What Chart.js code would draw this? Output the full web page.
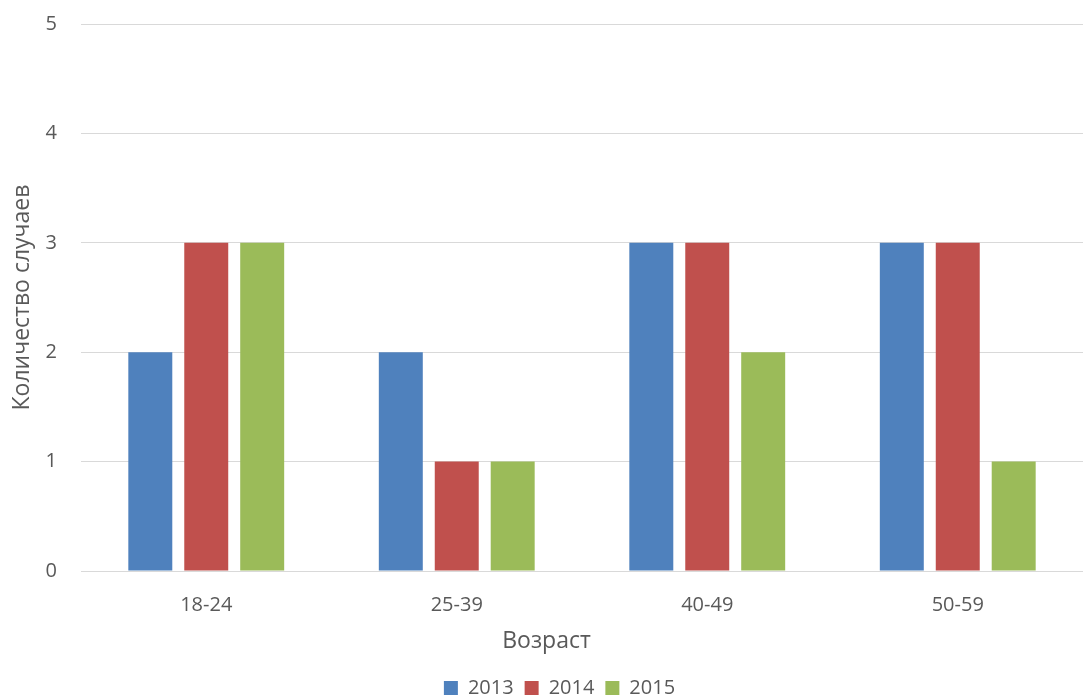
<!DOCTYPE html>
<html>
<head>
<meta charset="utf-8">
<script src="https://cdn.jsdelivr.net/npm/chart.js@4/dist/chart.umd.min.js"></script>
<style>
  html, body { margin: 0; padding: 0; background: #ffffff; overflow: hidden; }
  #wrap { width: 1083px; height: 698px; overflow: hidden; position: relative; }
  #c { position: absolute; left: 0; top: -12px; }
</style>
</head>
<body>
<div id="wrap"><canvas id="c" width="1083" height="710"></canvas></div>
<script>
// Age groups and yearly case counts
const categories = ['18-24', '25-39', '40-49', '50-59'];
const years = ['2013', '2014', '2015'];
const cases2013 = [2, 2, 3, 3];
const cases2014 = [3, 1, 3, 3];
const cases2015 = [3, 1, 2, 1];
const yTicks = [0, 1, 2, 3, 4, 5];
const xTitle = 'Возраст';
const yTitle = 'Количество случаев';

const colors = ['#4f81bd', '#c0504d', '#9bbb59'];
const series = [cases2013, cases2014, cases2015];
const fontFamily = "'Open Sans', 'Noto Sans', sans-serif";
const textColor = '#595959';

// Horizontal axis title, centred on the whole figure rather than the plot area
const xTitlePlugin = {
  id: 'xTitle',
  afterDraw(chart) {
    const ctx = chart.ctx;
    ctx.save();
    ctx.font = `23px ${fontFamily}`;
    ctx.fillStyle = textColor;
    ctx.textAlign = 'center';
    ctx.textBaseline = 'middle';
    ctx.fillText(xTitle, chart.width / 2 + 5, chart.chartArea.bottom + 70);
    ctx.restore();
  }
};

// Nudge the legend row slightly right of centre
const legendShift = {
  id: 'legendShift',
  afterLayout(chart) {
    if (chart.legend) {
      chart.legend.left += 18;
      chart.legend.right += 18;
    }
  }
};

new Chart(document.getElementById('c'), {
  type: 'bar',
  data: {
    labels: categories,
    datasets: years.map((y, i) => ({
      label: y,
      data: series[i],
      backgroundColor: colors[i],
      borderWidth: 0,
      barPercentage: 0.786,
      categoryPercentage: 0.67
    }))
  },
  plugins: [xTitlePlugin, legendShift],
  options: {
    responsive: false,
    animation: false,
    layout: { padding: { top: 0, right: 0, bottom: -10, left: 0 } },
    plugins: {
      legend: {
        position: 'bottom',
        labels: {
          boxWidth: 14,
          boxHeight: 14,
          padding: 11,
          color: textColor,
          font: { family: fontFamily, size: 20 }
        }
      },
      tooltip: { enabled: false }
    },
    scales: {
      x: {
        afterFit: (axis) => { axis.height = 96; },
        grid: { display: false, drawTicks: false },
        border: { display: true, color: '#d9d9d9', width: 1 },
        ticks: { color: textColor, padding: 22, maxRotation: 0, font: { family: fontFamily, size: 20 } },
        title: { display: false }
      },
      y: {
        min: 0,
        max: 5,
        afterBuildTicks: (axis) => { axis.ticks = yTicks.map(v => ({ value: v })); },
        afterFit: (axis) => { axis.width = 81; },
        grid: { color: '#d9d9d9', lineWidth: 1, drawTicks: false },
        border: { display: false },
        ticks: { color: textColor, padding: 24, font: { family: fontFamily, size: 20 } },
        title: {
          display: true,
          text: yTitle,
          color: textColor,
          padding: { top: 9, bottom: 4 },
          font: { family: fontFamily, size: 23 }
        }
      }
    }
  }
});
</script>
</body>
</html>
